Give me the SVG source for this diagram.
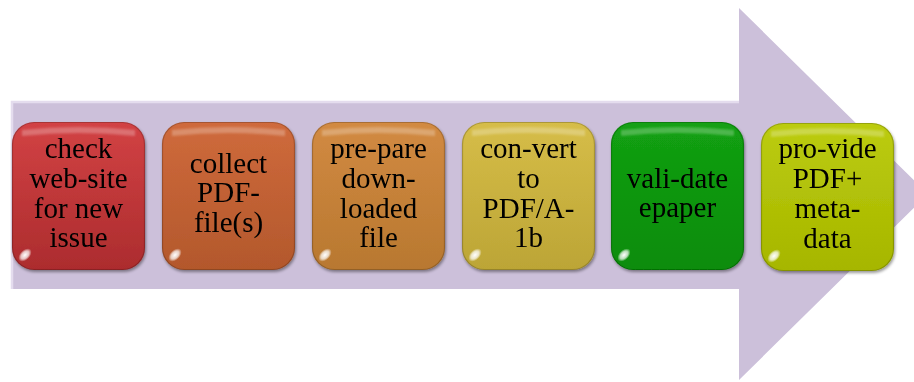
<svg xmlns="http://www.w3.org/2000/svg" width="914" height="382" viewBox="0 0 914 382">
  <defs>
    <linearGradient id="gRed" x1="0" y1="0" x2="0" y2="1">
      <stop offset="0" stop-color="#d24244"/><stop offset="1" stop-color="#ac2c2e"/>
    </linearGradient>
    <linearGradient id="gRust" x1="0" y1="0" x2="0" y2="1">
      <stop offset="0" stop-color="#cf6a3c"/><stop offset="1" stop-color="#b3582c"/>
    </linearGradient>
    <linearGradient id="gAmber" x1="0" y1="0" x2="0" y2="1">
      <stop offset="0" stop-color="#d28a42"/><stop offset="1" stop-color="#b87830"/>
    </linearGradient>
    <linearGradient id="gOlive" x1="0" y1="0" x2="0" y2="1">
      <stop offset="0" stop-color="#d6bd48"/><stop offset="1" stop-color="#bca536"/>
    </linearGradient>
    <linearGradient id="gGreen" x1="0" y1="0" x2="0" y2="1">
      <stop offset="0" stop-color="#13a013"/><stop offset="1" stop-color="#088c08"/>
    </linearGradient>
    <linearGradient id="gLime" x1="0" y1="0" x2="0" y2="1">
      <stop offset="0" stop-color="#bccc0e"/><stop offset="1" stop-color="#a6b600"/>
    </linearGradient>
    <radialGradient id="glint" cx="0.5" cy="0.5" r="0.5">
      <stop offset="0" stop-color="#fff" stop-opacity="1"/>
      <stop offset="0.6" stop-color="#fff" stop-opacity="0.7"/>
      <stop offset="1" stop-color="#fff" stop-opacity="0"/>
    </radialGradient>
    <filter id="shadow" x="-10%" y="-10%" width="125%" height="125%">
      <feGaussianBlur in="SourceAlpha" stdDeviation="1.8"/>
      <feOffset dx="1" dy="2"/>
      <feComponentTransfer><feFuncA type="linear" slope="0.4"/></feComponentTransfer>
      <feMerge><feMergeNode/><feMergeNode in="SourceGraphic"/></feMerge>
    </filter>
    <filter id="soft" x="-20%" y="-20%" width="140%" height="140%">
      <feGaussianBlur stdDeviation="1"/>
    </filter>
    <!-- shared bevel, gloss and corner glint of a step box -->
    <g id="box">
      <rect x="0.5" y="0.5" width="132" height="147" rx="22" ry="22" fill="none" stroke="#000" stroke-opacity="0.2" stroke-width="1.2"/>
      <path d="M10 8 Q66 2 123 8 L123 14 Q66 8 10 14 Z" fill="#fff" fill-opacity="0.25" filter="url(#soft)"/>
      <path d="M128 24 V124" fill="none" stroke="#fff" stroke-opacity="0.25" stroke-width="2.5" filter="url(#soft)"/>
      <ellipse cx="13" cy="133" rx="8" ry="5" transform="rotate(-45 13 133)" fill="url(#glint)"/>
    </g>
  </defs>
  <style>
    .lbl { font-family: "Liberation Serif", "Times New Roman", serif; font-size: 29px; fill: #000; text-anchor: middle; }
  </style>

  <!-- big process arrow -->
  <g id="arrow">
    <path d="M12 101 H739 V8 L928 194 L739 380 V289 H12 Z" fill="#ccc0da"/>
    <path d="M12 289 V102 H739" fill="none" stroke="#e4dcee" stroke-width="2.5"/>
  </g>

  <g id="connectors"></g>

  <g id="step1" filter="url(#shadow)">
    <rect x="12" y="122" width="133" height="148" rx="22" fill="url(#gRed)"/>
    <use href="#box" x="12" y="122"/>
    <text class="lbl" x="78.5" y="158">check</text>
    <text class="lbl" x="78.5" y="188">web-site</text>
    <text class="lbl" x="78.5" y="217.5">for new</text>
    <text class="lbl" x="78.5" y="247">issue</text>
  </g>

  <g id="step2" filter="url(#shadow)">
    <rect x="162" y="122" width="133" height="148" rx="22" fill="url(#gRust)"/>
    <use href="#box" x="162" y="122"/>
    <text class="lbl" x="228.5" y="172.5">collect</text>
    <text class="lbl" x="228.5" y="202">PDF-</text>
    <text class="lbl" x="228.5" y="231.5">file(s)</text>
  </g>

  <g id="step3" filter="url(#shadow)">
    <rect x="312" y="122" width="133" height="148" rx="22" fill="url(#gAmber)"/>
    <use href="#box" x="312" y="122"/>
    <text class="lbl" x="378.5" y="158">pre-pare</text>
    <text class="lbl" x="378.5" y="188">down-</text>
    <text class="lbl" x="378.5" y="217.5">loaded</text>
    <text class="lbl" x="378.5" y="247">file</text>
  </g>

  <g id="step4" filter="url(#shadow)">
    <rect x="462" y="122" width="133" height="148" rx="22" fill="url(#gOlive)"/>
    <use href="#box" x="462" y="122"/>
    <text class="lbl" x="528.5" y="158">con-vert</text>
    <text class="lbl" x="528.5" y="188">to</text>
    <text class="lbl" x="528.5" y="217.5">PDF/A-</text>
    <text class="lbl" x="528.5" y="247">1b</text>
  </g>

  <g id="step5" filter="url(#shadow)">
    <rect x="611" y="122" width="133" height="148" rx="22" fill="url(#gGreen)"/>
    <use href="#box" x="611" y="122"/>
    <text class="lbl" x="677.5" y="187.5">vali-date</text>
    <text class="lbl" x="677.5" y="217">epaper</text>
  </g>

  <g id="step6" filter="url(#shadow)">
    <rect x="761" y="123" width="133" height="148" rx="22" fill="url(#gLime)"/>
    <use href="#box" x="761" y="123"/>
    <text class="lbl" x="827.5" y="158">pro-vide</text>
    <text class="lbl" x="827.5" y="188">PDF+</text>
    <text class="lbl" x="827.5" y="218">meta-</text>
    <text class="lbl" x="827.5" y="248">data</text>
  </g>
</svg>
